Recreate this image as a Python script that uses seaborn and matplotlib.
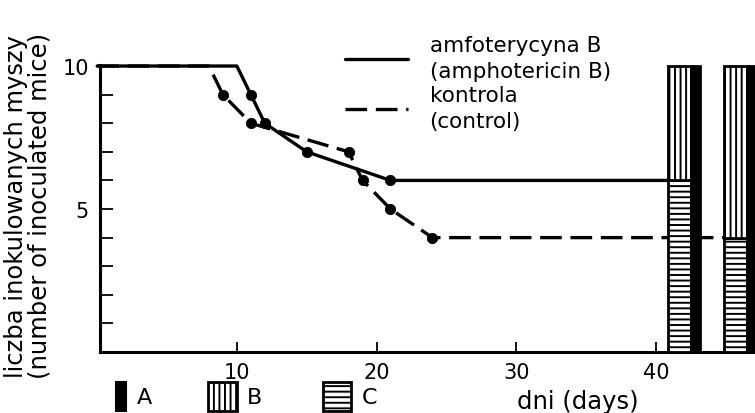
import matplotlib
matplotlib.use("Agg")
import matplotlib.pyplot as plt
from matplotlib.lines import Line2D
from matplotlib.patches import Rectangle
import seaborn as sns
import pandas as pd

# ---- data ----
amph_days = [0, 10, 11, 12, 15, 21, 41]
amph_mice = [10, 10, 9, 8, 7, 6, 6]
amph_obs_days = [11, 12, 15, 21]
amph_obs_mice = [9, 8, 7, 6]

ctrl_days = [0, 8, 9, 11, 18, 19, 21, 24, 45]
ctrl_mice = [10, 10, 9, 8, 7, 6, 5, 4, 4]
ctrl_obs_days = [9, 11, 18, 19, 21, 24]
ctrl_obs_mice = [9, 8, 7, 6, 5, 4]

bar_groups = ["amfoterycyna B", "kontrola"]
count_C = [6, 4]    # horizontal hatch (lower part)
count_B = [4, 6]    # vertical hatch (upper part)
count_A = [10, 10]  # black strip

x_ticks = [10, 20, 30, 40]
y_ticks = [1, 2, 3, 4, 5, 6, 7, 8, 9, 10]
y_ticklabels = ["", "", "", "", "5", "", "", "", "", "10"]

legend_lines = ["amfoterycyna B\n(amphotericin B)", "kontrola\n(control)"]
legend_boxes = ["A", "B", "C"]

# ---- style ----
sns.set_style("ticks")
plt.rcParams["font.family"] = ["DejaVu Sans"]
plt.rcParams["hatch.linewidth"] = 1.4
plt.rcParams["hatch.color"] = "black"
for k in ["text.color", "axes.labelcolor", "xtick.color", "ytick.color", "axes.edgecolor"]:
    plt.rcParams[k] = "black"

W, H = 755, 414
fig = plt.figure(figsize=(W / 100, H / 100), dpi=100)
ax_left, ax_right, ax_bottom, ax_top = 100, 755, 353, 65.6
ax = fig.add_axes([ax_left / W, 1 - ax_bottom / H, (ax_right - ax_left) / W, (ax_bottom - ax_top) / H])

lw = 2.4
dash = (0, (6.5, 2.6))

df_a = pd.DataFrame({"day": amph_days, "mice": amph_mice})
df_c = pd.DataFrame({"day": ctrl_days, "mice": ctrl_mice})

sns.lineplot(data=df_c, x="day", y="mice", ax=ax, color="black", lw=lw,
             linestyle=dash, sort=False, estimator=None, clip_on=False, zorder=2)
sns.lineplot(data=df_a, x="day", y="mice", ax=ax, color="black", lw=lw,
             sort=False, estimator=None, clip_on=False, zorder=3)
sns.scatterplot(x=amph_obs_days, y=amph_obs_mice, ax=ax, color="black", s=55,
                edgecolor="black", zorder=4)
sns.scatterplot(x=ctrl_obs_days, y=ctrl_obs_mice, ax=ax, color="black", s=55,
                edgecolor="black", zorder=4)

# stacked bars at right
bar_left = [40.9, 44.9]
hatch_w = 1.65
black_w = 0.6
for i in range(len(bar_groups)):
    ax.bar(bar_left[i], count_C[i], width=hatch_w, bottom=0, align="edge",
           facecolor="white", edgecolor="black", hatch="---", lw=2.0, zorder=5, clip_on=False)
    ax.bar(bar_left[i], count_B[i], width=hatch_w, bottom=count_C[i], align="edge",
           facecolor="white", edgecolor="black", hatch="|||", lw=2.0, zorder=5, clip_on=False)
    ax.bar(bar_left[i] + hatch_w, count_A[i], width=black_w, bottom=0, align="edge",
           facecolor="black", edgecolor="black", lw=2.0, zorder=6, clip_on=False)

ax.set_xlim(0.2, 47.1)
ax.set_ylim(0, 10.05)
ax.set_xticks(x_ticks)
ax.set_xticklabels([str(t) for t in x_ticks], fontsize=15)
ax.set_yticks(y_ticks)
ax.set_yticklabels(y_ticklabels, fontsize=15)
ax.tick_params(axis="x", direction="in", length=7, width=1.3, pad=7)
ax.tick_params(axis="y", direction="in", length=9, width=1.3, pad=8)

for s in ["top", "right"]:
    ax.spines[s].set_visible(False)
for s in ["left", "bottom"]:
    ax.spines[s].set_linewidth(2.2)

ax.set_xlabel("dni (days)", fontsize=17.5)
ax.xaxis.set_label_coords(0.73, -0.13)
ax.set_ylabel("liczba inokulowanych myszy\n(number of inoculated mice)", fontsize=17.5, linespacing=1.0)
ax.yaxis.set_label_coords(-0.074, 0.51)

# line legend
handles = [Line2D([], [], color="black", lw=lw),
           Line2D([], [], color="black", lw=lw, linestyle=dash)]
leg = ax.legend(handles, legend_lines, loc="upper left", bbox_to_anchor=(345 / W, 1 - 36 / H),
                bbox_transform=fig.transFigure, frameon=False,
                prop={"size": 15.5}, handlelength=2.93, handletextpad=1.0,
                labelspacing=0.2, borderpad=0, borderaxespad=0)
for t in leg.get_texts():
    t.set_linespacing(1.38)

# box legend (A, B, C)
y0 = 1 - 412 / H
hgt = 29 / H
fig.add_artist(Rectangle((116 / W, y0), 10 / W, hgt, transform=fig.transFigure,
                         facecolor="black", edgecolor="black", lw=1.5))
fig.add_artist(Rectangle((208 / W, y0), 29 / W, hgt, transform=fig.transFigure,
                         facecolor="white", edgecolor="black", hatch="|||", lw=2.0))
fig.add_artist(Rectangle((323 / W, y0), 28 / W, hgt, transform=fig.transFigure,
                         facecolor="white", edgecolor="black", hatch="---", lw=2.0))
for xt, lab in zip([137, 247, 362], legend_boxes):
    fig.text(xt / W, 1 - 398 / H, lab, fontsize=16, va="center", ha="left")

fig.savefig("out.png", dpi=100)
